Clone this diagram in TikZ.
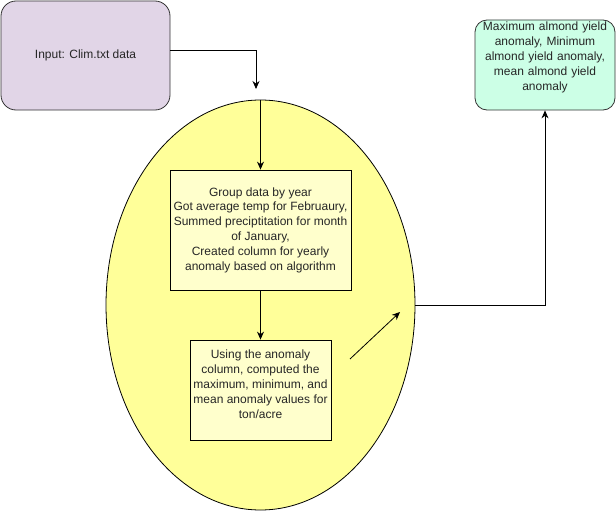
\documentclass[tikz,border=0pt]{standalone}
\usepackage{fontspec}
\setmainfont{Liberation Sans}
\usetikzlibrary{arrows.meta,shapes.geometric}
\definecolor{purplefill}{HTML}{E1D5E7}
\definecolor{greenfill}{HTML}{CCFFE6}
\definecolor{ellfill}{HTML}{FFFF99}
\definecolor{boxfill}{HTML}{FFFFCC}
\definecolor{edge}{HTML}{333333}
\begin{document}
\begin{tikzpicture}[x=1pt,y=-1pt,
  every node/.style={font=\fontsize{12}{14.8}\selectfont, text=black!85, align=center, inner sep=0pt},
  rbox/.style={draw=edge, line width=0.8pt, rounded corners=15pt, minimum width=#1},
  pbox/.style={draw=black, line width=0.8pt, fill=boxfill},
  conn/.style={draw=black, line width=0.8pt, -{Stealth[length=8pt,width=7pt]}}]
\useasboundingbox (0,0) rectangle (616,511);
\node[rbox=169pt, fill=purplefill, minimum height=109pt] (input) at (85.5,55.5) {Input: Clim.txt data};
\node[draw=black, line width=0.8pt, fill=ellfill, ellipse, minimum width=309pt, minimum height=410pt] (ell) at (260.5,305) {};
\node[rbox=140pt, fill=greenfill, minimum height=90pt, rounded corners=12pt] (out) at (545,65) {};
\node[anchor=north, text width=140pt] (outtxt) at (545,22) {Maximum almond yield\\anomaly, Minimum\\almond yield anomaly,\\mean almond yield\\anomaly};
\node[pbox, minimum width=181pt, minimum height=120pt] (b1) at (260.5,230) {Group data by year\\Got average temp for Februaury,\\Summed preciptitation for month\\of January,\\Created column for yearly\\anomaly based on algorithm};
\node[pbox, minimum width=141pt, minimum height=100pt] (b2) at (260.5,390) {};
\node[anchor=north] (b2txt) at (260.5,350) {Using the anomaly\\column, computed the\\maximum, minimum, and\\mean anomaly values for\\ton/acre};
\coordinate (c1) at (256,89);
\coordinate (d1) at (350,359);
\coordinate (d2) at (400,312);
\draw[conn] (input.east |- 0,50) -| (c1);
\draw[conn] (ell.north) -- (b1.north);
\draw[conn] (b1.south) -- (b2.north);
\draw[conn] (d1) -- (d2);
\draw[conn] (ell.east) -| (out.south);
\end{tikzpicture}
\end{document}
